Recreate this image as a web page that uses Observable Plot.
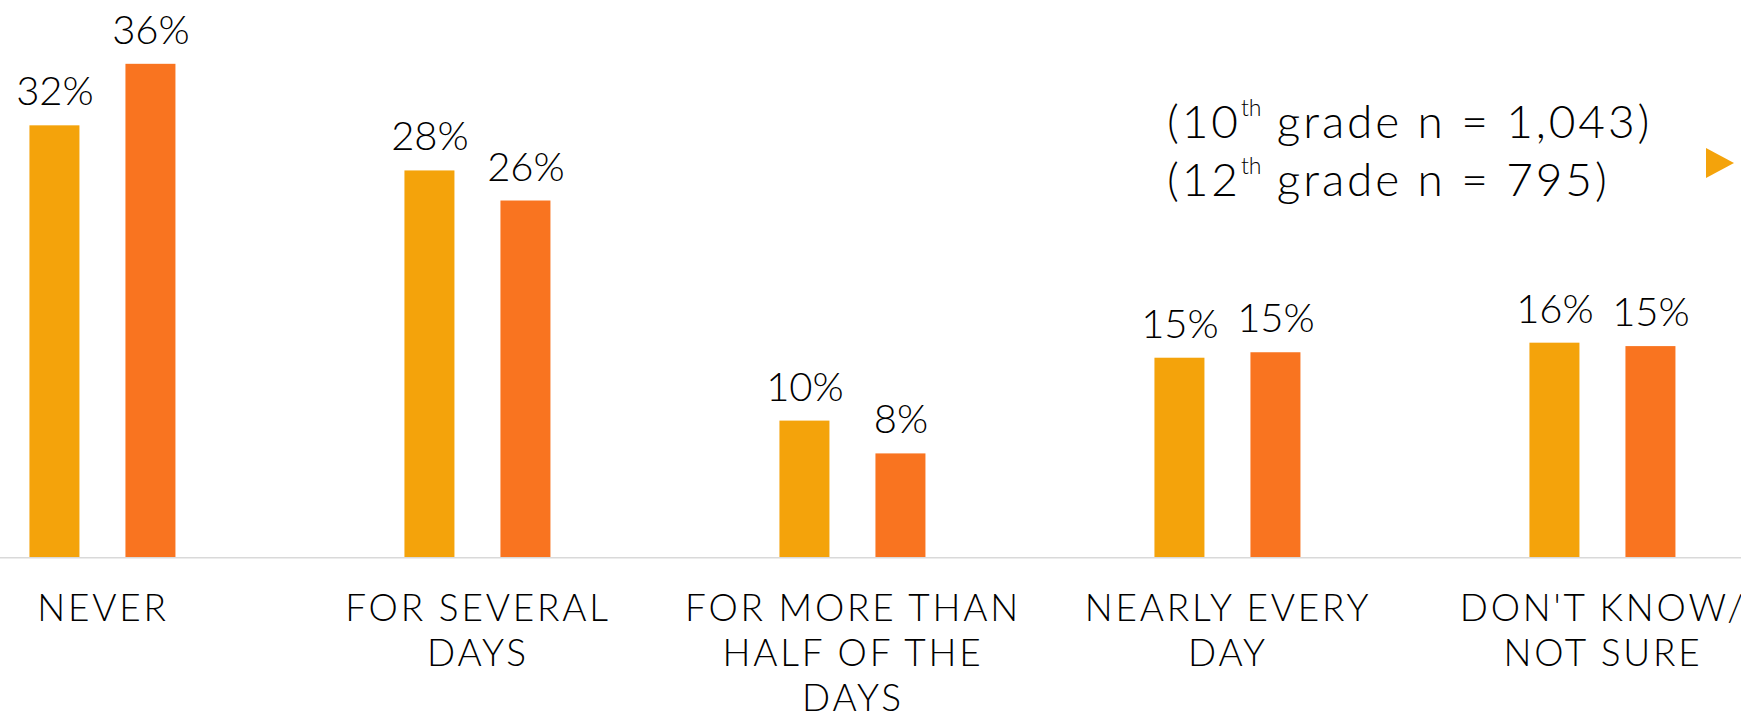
<!DOCTYPE html>
<html>
<head>
<meta charset="utf-8">
<script src="https://cdn.jsdelivr.net/npm/d3@7"></script>
<script src="https://cdn.jsdelivr.net/npm/@observablehq/plot@0.6"></script>
<style>
  html, body { margin: 0; padding: 0; background: #fff; }
  #wrap { position: relative; width: 1741px; height: 714px; overflow: hidden; }
  #chart svg { display: block; overflow: visible; font-weight: 300; }
  g[aria-label="fx-axis tick label"] text { letter-spacing: 2.8px; }
  #legend {
    position: absolute; left: 1167px; top: 92px;
    font-family: Lato, sans-serif; font-weight: 300; font-size: 46px; line-height: 57.7px; color: #000;
    white-space: nowrap; letter-spacing: 2.9px;
  }
  #legend sup { font-size: 0.5em; line-height: 0; vertical-align: 0.95em; letter-spacing: 0; }
  #marker {
    position: absolute; left: 1706px; top: 148px; width: 0; height: 0;
    border-left: 28px solid #F4A30B; border-top: 15.5px solid transparent; border-bottom: 15.5px solid transparent;
  }
</style>
</head>
<body>
<div id="wrap">
  <div id="chart"></div>
  <div id="legend">(10<sup>th</sup> grade n = 1,043)<br>(12<sup>th</sup> grade n = 795)</div>
  <div id="marker"></div>
</div>
<script>
const categories = ["Never", "For several days", "For more than half of the days", "Nearly every day", "Don't know/not sure"];
const tickLabels = ["NEVER", "FOR SEVERAL\nDAYS", "FOR MORE THAN\nHALF OF THE\nDAYS", "NEARLY EVERY\nDAY", "DON'T KNOW/\nNOT SURE"];
const grades = ["10th grade", "12th grade"];
const tenth = [31.6, 28.3, 10.0, 14.6, 15.7];
const twelfth = [36.1, 26.1, 7.6, 15.0, 15.45];
const colors = ["#F4A30B", "#F97420"];

const data = categories.flatMap((c, i) => [
  {category: c, grade: grades[0], value: tenth[i]},
  {category: c, grade: grades[1], value: twelfth[i]}
]);
const fmt = d3.format(".0f");

const chart = Plot.plot({
  width: 1741,
  height: 714,
  marginTop: 10.5,
  marginBottom: 156.7,
  marginLeft: -87.44,
  marginRight: -50.94,
  style: {fontFamily: "Lato, sans-serif", color: "#000", background: "transparent"},
  fx: {domain: categories, padding: 0, axis: null, label: null},
  x: {domain: grades, paddingInner: 0.4742, paddingOuter: 1.1746, axis: null},
  y: {domain: [0, 40], axis: null},
  color: {domain: grades, range: colors},
  marks: [
    Plot.barY(data, {fx: "category", x: "grade", y: "value", fill: "grade"}),
    Plot.ruleY([0], {stroke: "#d9d9d9", strokeWidth: 1.5}),
    Plot.text(data, {fx: "category", x: "grade", y: "value", text: d => fmt(d.value) + "%",
      lineAnchor: "bottom", dy: -20.5, fontSize: 40, fill: "#000"}),
    Plot.axisFx({anchor: "bottom", tickSize: 0, tickPadding: 31, fontSize: 37, lineHeight: 1.22,
      tickFormat: c => tickLabels[categories.indexOf(c)], label: null, fill: "#000"})
  ]
});
document.getElementById("chart").appendChild(chart);
</script>
</body>
</html>
